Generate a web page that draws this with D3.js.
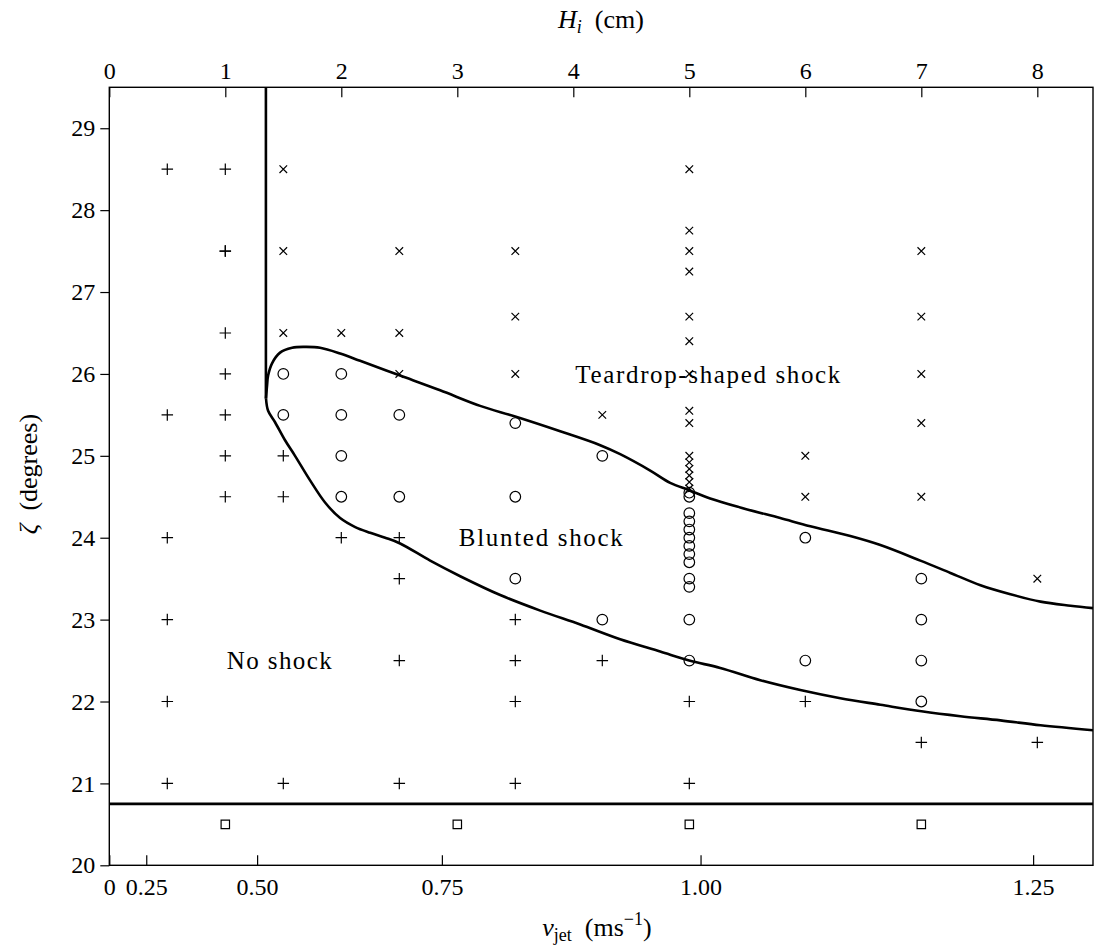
<!DOCTYPE html>
<html><head><meta charset="utf-8">
<script src="https://cdn.jsdelivr.net/npm/d3@7"></script>
<style>
body{margin:0;background:#fff;}
svg{display:block;}
text{font-family:"Liberation Serif","DejaVu Serif",serif;fill:#000;}
</style></head><body>
<svg id="chart" width="1096" height="949"></svg>
<script>
// ---------- data (H in cm, zeta in degrees) ----------
const hTicks = [0,1,2,3,4,5,6,7,8];
const vTicks = [0,0.25,0.5,0.75,1.0,1.25];
const vTickLabels = ["0","0.25","0.50","0.75","1.00","1.25"];
const zetaTicks = [20,21,22,23,24,25,26,27,28,29];

const plusPts = [
  [0.5,28.5],[0.5,25.5],[0.5,24],[0.5,23],[0.5,22],[0.5,21],
  [1,28.5],[1,27.5],[1,27.5],[1,26.5],[1,26],[1,25.5],[1,25],[1,24.5],
  [1.5,25],[1.5,24.5],[1.5,21],
  [2,24],
  [2.5,24],[2.5,23.5],[2.5,22.5],[2.5,21],
  [3.5,23],[3.5,22.5],[3.5,22],[3.5,21],
  [4.25,22.5],
  [5,22],[5,21],
  [6,22],
  [7,21.5],
  [8,21.5]
];
const crossPts = [
  [1.5,28.5],[1.5,27.5],[1.5,26.5],
  [2,26.5],
  [2.5,27.5],[2.5,26.5],[2.5,26],
  [3.5,27.5],[3.5,26.7],[3.5,26],
  [4.25,25.5],
  [5,28.5],[5,27.75],[5,27.5],[5,27.25],[5,26.7],[5,26.4],[5,26],[5,25.55],[5,25.4],
  [5,25],[5,24.92],[5,24.84],[5,24.76],[5,24.68],[5,24.6],
  [6,25],[6,24.5],
  [7,27.5],[7,26.7],[7,26],[7,25.4],[7,24.5],
  [8,23.5]
];
const circlePts = [
  [1.5,26],[1.5,25.5],
  [2,26],[2,25.5],[2,25],[2,24.5],
  [2.5,25.5],[2.5,24.5],
  [3.5,25.4],[3.5,24.5],[3.5,23.5],
  [4.25,25],[4.25,23],
  [5,24.55],[5,24.5],[5,24.3],[5,24.2],[5,24.1],[5,24.0],[5,23.9],[5,23.8],[5,23.7],
  [5,23.5],[5,23.4],[5,23],[5,22.5],
  [6,24],[6,22.5],
  [7,23.5],[7,23],[7,22.5],[7,22]
];
const squarePts = [[1,20.5],[3,20.5],[5,20.5],[7,20.5]];

const upperBoundary = [
  [1.351,25.70],[1.36,25.86],[1.369,25.98],[1.403,26.13],[1.472,26.26],[1.576,26.32],
  [1.688,26.33],[1.817,26.32],[1.99,26.25],[2.162,26.16],[2.507,25.98],[2.852,25.80],
  [3.197,25.61],[3.499,25.48],[3.887,25.30],[4.232,25.13],[4.404,25.02],[4.663,24.82],
  [4.835,24.67],[4.999,24.58],[5.18,24.48],[5.439,24.37],[5.784,24.24],[6.043,24.14],
  [6.388,24.02],[6.647,23.91],[6.992,23.72],[7.251,23.57],[7.51,23.42],[7.768,23.31],
  [8.027,23.22],[8.286,23.17],[8.48,23.14]
];
const lowerBoundary = [
  [1.351,25.70],[1.369,25.55],[1.429,25.41],[1.515,25.19],[1.601,25.00],[1.731,24.70],
  [1.86,24.43],[1.99,24.24],[2.12,24.13],[2.249,24.06],[2.378,24.00],[2.507,23.93],
  [2.766,23.72],[3.025,23.53],[3.37,23.30],[3.715,23.11],[4.06,22.94],[4.404,22.76],
  [4.749,22.61],[4.999,22.50],[5.267,22.41],[5.612,22.26],[5.957,22.14],[6.302,22.04],
  [6.647,21.96],[7.001,21.88],[7.337,21.82],[7.682,21.77],[8.027,21.71],[8.48,21.65]
];
const verticalBoundary = [[1.35,29.5],[1.35,25.70]];
const horizontalBoundary = [[0,20.75],[8.48,20.75]];

const regionLabels = [
  {text:"Teardrop-shaped shock", H:5.16, z:26.0, len:265},
  {text:"Blunted shock",         H:3.72, z:24.0, len:164},
  {text:"No shock",              H:1.465, z:22.5, len:105}
];

(function(){
const G = 9.81; // v = sqrt(2 g H)
const hMax = 8.48, zMin = 20, zMax = 29.5;

// ---------- layout ----------
const mL = 109.3, mT = 87.3, mR = 1093, mB = 865.3;
const W = mR-mL, Hh = mB-mT;
const svg = d3.select("#chart");
const g = svg.append("g").attr("transform",`translate(${mL},${mT})`);

const x = d3.scaleLinear().domain([0,hMax]).range([0,W]);
const y = d3.scaleLinear().domain([zMin,zMax]).range([Hh,0]);
const vMax = Math.sqrt(2*G*hMax/100);
const xv = d3.scalePow().exponent(2).domain([0,vMax]).range([0,W]);

const FS = 24;
const FF = '"Liberation Serif","DejaVu Serif",serif';
function styleAxis(sel){
  sel.select(".domain").remove();
  sel.selectAll("line").attr("stroke","#000").attr("stroke-width",1.2);
  sel.selectAll("text").attr("font-size",FS).style("font-family",FF);
}

const ga = g.append("g").call(d3.axisTop(x).tickValues(hTicks).tickFormat(d3.format("d"))
  .tickSizeInner(-10).tickSizeOuter(0).tickPadding(8));
styleAxis(ga);

const gb = g.append("g").attr("transform",`translate(0,${Hh})`)
  .call(d3.axisBottom(xv).tickValues(vTicks).tickFormat((d,i)=>vTickLabels[i])
  .tickSizeInner(-10).tickSizeOuter(0).tickPadding(13));
styleAxis(gb);

const gl = g.append("g").call(d3.axisLeft(y).tickValues(zetaTicks).tickFormat(d3.format("d"))
  .tickSizeInner(9).tickSizeOuter(0).tickPadding(5));
styleAxis(gl);

// frame
g.append("rect").attr("x",0).attr("y",0).attr("width",W).attr("height",Hh)
  .attr("fill","none").attr("stroke","#000").attr("stroke-width",1.4);

// boundaries
const line = d3.line().x(d=>x(d[0])).y(d=>y(d[1]));
const smooth = d3.line().x(d=>x(d[0])).y(d=>y(d[1])).curve(d3.curveCatmullRom.alpha(0.5));
[verticalBoundary, horizontalBoundary].forEach(p=>{
  g.append("path").attr("d",line(p)).attr("fill","none").attr("stroke","#000").attr("stroke-width",2.6);
});
[upperBoundary, lowerBoundary].forEach(p=>{
  g.append("path").attr("d",smooth(p)).attr("fill","none").attr("stroke","#000")
    .attr("stroke-width",2.6).attr("stroke-linejoin","round");
});

// marker symbol types
const plusSym = {draw(ctx,size){const r=Math.sqrt(size)/2; ctx.moveTo(-r,0);ctx.lineTo(r,0);ctx.moveTo(0,-r);ctx.lineTo(0,r);}};
const timesSym = {draw(ctx,size){const r=Math.sqrt(size)/2; ctx.moveTo(-r,-r);ctx.lineTo(r,r);ctx.moveTo(-r,r);ctx.lineTo(r,-r);}};
const circSym = {draw(ctx,size){const r=Math.sqrt(size)/2; ctx.moveTo(r,0);ctx.arc(0,0,r,0,2*Math.PI);}};
const sqSym = {draw(ctx,size){const r=Math.sqrt(size)/2; ctx.rect(-r,-r,2*r,2*r);}};

function drawMarkers(pts, type, size, sw){
  g.append("g").selectAll("path").data(pts).join("path")
    .attr("transform",d=>`translate(${x(d[0])},${y(d[1])})`)
    .attr("d",d3.symbol().type(type).size(size))
    .attr("fill","none").attr("stroke","#000").attr("stroke-width",sw);
}
drawMarkers(plusPts, plusSym, 11.5*11.5, 1.2);
drawMarkers(crossPts, timesSym, 7.6*7.6, 1.2);
drawMarkers(circlePts, circSym, 10.6*10.6, 1.2);
drawMarkers(squarePts, sqSym, 8.4*8.4, 1.2);

// region labels
g.append("g").selectAll("text").data(regionLabels).join("text")
  .attr("x",d=>x(d.H)).attr("y",d=>y(d.z)).attr("dy","0.35em")
  .attr("text-anchor","middle").attr("font-size",25)
  .attr("textLength",d=>d.len).attr("lengthAdjust","spacing")
  .text(d=>d.text);

// axis titles
const tt = svg.append("text").attr("x",601).attr("y",28).attr("text-anchor","middle").attr("font-size",26);
tt.append("tspan").attr("font-style","italic").text("H");
tt.append("tspan").attr("font-style","italic").attr("font-size",18).attr("dy",5).text("i");
tt.append("tspan").attr("dy",-5).text("\u2002(cm)");

const bt = svg.append("text").attr("x",597).attr("y",936).attr("text-anchor","middle").attr("font-size",26);
bt.append("tspan").attr("font-style","italic").text("v");
bt.append("tspan").attr("font-size",18).attr("dy",5).text("jet");
bt.append("tspan").attr("dy",-5).text("\u2002(ms");
bt.append("tspan").attr("font-size",18).attr("dy",-11).text("\u22121");
bt.append("tspan").attr("dy",11).text(")");

svg.append("text").attr("transform","translate(37,474) rotate(-90)")
  .attr("text-anchor","middle").attr("font-size",26)
  .call(t=>{t.append("tspan").attr("font-style","italic").text("\u03b6");t.append("tspan").text("\u2002(degrees)");});
})();
</script>
</body></html>
